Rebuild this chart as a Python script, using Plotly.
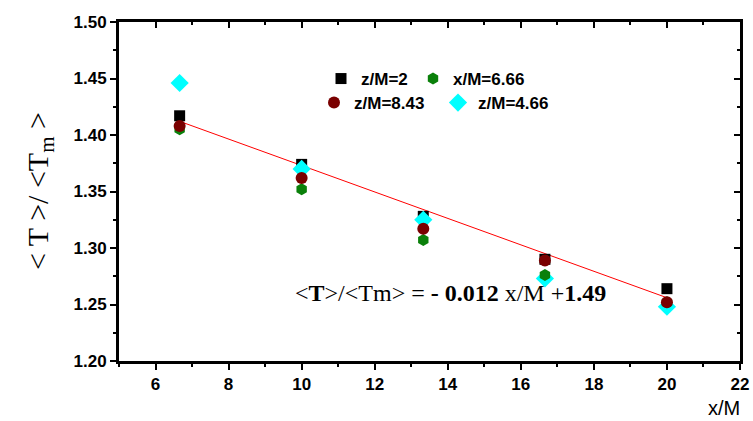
import plotly.graph_objects as go
import numpy as np

x_m = [6.66, 10.0, 13.33, 16.66, 20.0]
z2 = [1.417, 1.374, 1.328, 1.290, 1.264]
x666 = [1.405, 1.352, 1.307, 1.276, 1.252]
z843 = [1.408, 1.362, 1.317, 1.289, 1.252]
z466 = [1.446, 1.370, 1.325, 1.273, 1.248]
fit_slope = -0.0117
fit_intercept = 1.490
x_ticks = [6, 8, 10, 12, 14, 16, 18, 20, 22]
y_ticks = [1.20, 1.25, 1.30, 1.35, 1.40, 1.45, 1.50]

fig = go.Figure()

fit_x = np.array([x_m[0], x_m[-1]])
fig.add_trace(go.Scatter(x=fit_x, y=fit_intercept + fit_slope * fit_x, mode="lines",
                         line=dict(color="red", width=1), showlegend=False, hoverinfo="skip"))

fig.add_trace(go.Scatter(x=x_m, y=z2, mode="markers", name="<b>z/M=2</b>", legend="legend",
                         marker=dict(symbol="square", size=11, color="black")))
fig.add_trace(go.Scatter(x=x_m, y=z466, mode="markers", name="<b>z/M=4.66</b>", legend="legend4",
                         marker=dict(symbol="diamond", size=14, color="#00FFFF")))
fig.add_trace(go.Scatter(x=x_m, y=x666, mode="markers", name="<b>x/M=6.66</b>", legend="legend3",
                         marker=dict(symbol="hexagon", size=12, color="#0A800A")))
fig.add_trace(go.Scatter(x=x_m, y=z843, mode="markers", name="<b>z/M=8.43</b>", legend="legend2",
                         marker=dict(symbol="circle", size=12, color="#7A0000",
                                     line=dict(width=0))))

tickfont = dict(family="Liberation Sans, Arial", size=17, color="black")
axis_common = dict(showline=True, linecolor="black", linewidth=3, ticklen=6, tickwidth=2,
                   tickcolor="black", showgrid=False, zeroline=False, automargin=False)
legfont = dict(family="Liberation Sans, Arial", size=17, color="black")


def leg(px, py):
    return dict(x=(px - 119) / 621, y=(361 - py) / 339, xanchor="left", yanchor="top",
                bgcolor="rgba(0,0,0,0)", font=legfont, itemwidth=30)


fig.update_layout(
    width=753, height=421,
    margin=dict(l=119, r=13, t=22, b=60, autoexpand=False),
    plot_bgcolor="white", paper_bgcolor="white",
    xaxis=dict(range=[5, 22], tickvals=x_ticks, ticktext=[f"<b>{v}</b>" for v in x_ticks],
               ticks="outside", tickfont=tickfont,
               minor=dict(dtick=1, ticks="outside", ticklen=3, tickwidth=2, tickcolor="black"),
               **axis_common),
    yaxis=dict(range=[1.2, 1.5], tickvals=y_ticks, ticktext=[f"<b>{v:.2f}</b>" for v in y_ticks],
               ticks="outside", tickfont=tickfont,
               minor=dict(dtick=0.025, ticks="outside", ticklen=3, tickwidth=2, tickcolor="black"),
               **axis_common),
    xaxis2=dict(range=[5, 22], dtick=2, overlaying="x", side="top", ticks="inside",
                showticklabels=False, minor=dict(dtick=1, ticks="inside", ticklen=3, tickwidth=2,
                                                 tickcolor="black"),
                **axis_common),
    yaxis2=dict(range=[1.2, 1.5], dtick=0.05, overlaying="y", side="right", ticks="inside",
                showticklabels=False, minor=dict(dtick=0.025, ticks="inside", ticklen=3, tickwidth=2,
                                                 tickcolor="black"),
                **axis_common),
    legend=leg(321, 61),
    legend3=leg(413, 61),
    legend2=leg(314, 85),
    legend4=leg(438, 85),
    showlegend=True,
)

fig.add_trace(go.Scatter(x=[None], y=[None], xaxis="x2", yaxis="y2", showlegend=False,
                         hoverinfo="skip"))

fig.add_annotation(text="&lt; T &gt;/ &lt;T<sub>m</sub> &gt;", xref="paper", yref="paper",
                   x=-0.128, y=0.5, xanchor="center", yanchor="middle", textangle=-90,
                   showarrow=False, font=dict(family="Times New Roman, Liberation Serif", size=30,
                                              color="black"))
fig.add_annotation(text="x/M", xref="paper", yref="paper", x=0.975, y=-0.14,
                   xanchor="center", yanchor="middle", showarrow=False,
                   font=dict(family="Liberation Sans, Arial", size=20, color="black"))
fig.add_annotation(text="&lt;<b>T</b>&gt;/&lt;Tm&gt; = <b>- 0.012</b> x/M +<b>1.49</b>",
                   xref="paper", yref="paper", x=(450 - 119) / 621, y=(361 - 293) / 339,
                   xanchor="center", yanchor="middle", showarrow=False,
                   font=dict(family="Times New Roman, Liberation Serif", size=24, color="black"))

fig.write_html("out.html")
